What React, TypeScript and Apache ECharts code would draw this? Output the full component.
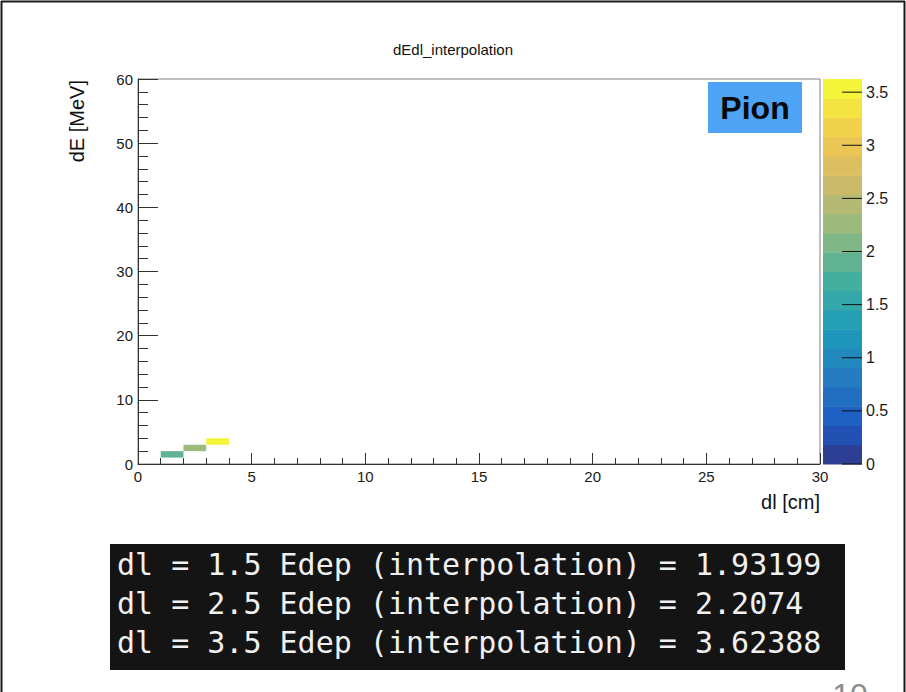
import React, { useEffect, useRef } from "react";
import * as echarts from "echarts";

// Interpolated energy deposit per track segment length
const dlValues = [1.5, 2.5, 3.5]; // dl [cm]
const edepValues = [1.93199, 2.2074, 3.62388]; // Edep (interpolation) [MeV]

// Histogram binning (cm x MeV)
const binWidthDl = 1;
const binWidthDE = 1;

// Axis ticks
const xTickValues = [0, 5, 10, 15, 20, 25, 30];
const yTickValues = [0, 10, 20, 30, 40, 50, 60];
const zTickValues = [0, 0.5, 1, 1.5, 2, 2.5, 3, 3.5];

// Console printout shown under the histogram
const consoleLines = dlValues.map(
  (dl, i) => `dl = ${dl} Edep (interpolation) = ${edepValues[i]}`
);

const nContours = 20;
const zMin = 0;
const zMax = Math.max(...edepValues);

// "Bird" palette stops
const birdStops = [0, 0.125, 0.25, 0.375, 0.5, 0.625, 0.75, 0.875, 1];
const birdR = [0.2082, 0.0592, 0.078, 0.0232, 0.1802, 0.5301, 0.8186, 0.9956, 0.9764];
const birdG = [0.1664, 0.3599, 0.5041, 0.6419, 0.7178, 0.7492, 0.7328, 0.7862, 0.9832];
const birdB = [0.5293, 0.8684, 0.8385, 0.7914, 0.6425, 0.4662, 0.3499, 0.1968, 0.0539];

// slight wash-out of the palette, as it appears on the slide
const washOut = 0.2;

function birdColor(f: number): string {
  const t = Math.max(0, Math.min(1, f));
  let k = 0;
  while (k < birdStops.length - 2 && t > birdStops[k + 1]) k++;
  const u = (t - birdStops[k]) / (birdStops[k + 1] - birdStops[k]);
  const lerp = (a: number[]) => a[k] + u * (a[k + 1] - a[k]);
  const r = lerp(birdR);
  const g = lerp(birdG);
  const b = lerp(birdB);
  const lum = 0.299 * r + 0.587 * g + 0.114 * b;
  const w = (c: number) => Math.round(255 * (c * (1 - washOut) + lum * washOut));
  return `rgb(${w(r)},${w(g)},${w(b)})`;
}

function bandColor(i: number): string {
  return birdColor(((i + 0.99) / nContours) * (255 / 254));
}

function bandIndex(z: number): number {
  const idx = Math.floor(0.01 + ((z - zMin) * nContours) / (zMax - zMin));
  return Math.max(0, Math.min(nContours - 1, idx));
}

const FONT = "'Liberation Sans', Arial, Helvetica, sans-serif";
const MONO = "'DejaVu Sans Mono', 'Liberation Mono', monospace";

export default function App() {
  const ref = useRef<HTMLDivElement>(null);

  useEffect(() => {
    if (!ref.current) return;
    const chart = echarts.init(ref.current, null, { renderer: "svg" });

    const cellData = dlValues.map((dl, i) => [dl, edepValues[i], edepValues[i]]);
    const bandStep = (zMax - zMin) / nContours;
    const bandData = Array.from({ length: nContours }, (_, i) => [
      i,
      zMin + i * bandStep,
      zMin + (i + 1) * bandStep,
    ]);

    const axisLabelStyle = { fontFamily: FONT, fontSize: 15, color: "#1a1a1a" };

    chart.setOption({
      animation: false,
      backgroundColor: "#ffffff",
      textStyle: { fontFamily: FONT },
      title: {
        text: "dEdl_interpolation",
        left: "center",
        top: 37,
        textStyle: { fontFamily: FONT, fontSize: 15, fontWeight: "normal", color: "#111" },
      },
      grid: [
        {
          left: 138,
          top: 79,
          width: 682,
          height: 385,
          show: true,
          borderColor: "#808080",
          borderWidth: 1,
          backgroundColor: "transparent",
        },
        { left: 823, top: 79, width: 39, height: 385 },
      ],
      xAxis: [
        {
          type: "value",
          gridIndex: 0,
          min: xTickValues[0],
          max: xTickValues[xTickValues.length - 1],
          interval: xTickValues[1] - xTickValues[0],
          name: "dl [cm]",
          nameLocation: "end",
          nameGap: 0,
          nameTextStyle: {
            fontFamily: FONT,
            fontSize: 20,
            color: "#111",
            align: "right",
            verticalAlign: "top",
            padding: [28, 0, 0, 0],
          },
          axisLine: { show: true, onZero: false, lineStyle: { color: "#333", width: 1 } },
          axisTick: { show: true, inside: true, length: 11, lineStyle: { color: "#333" } },
          minorTick: { show: true, splitNumber: 5, length: 6, lineStyle: { color: "#333" } },
          axisLabel: { ...axisLabelStyle, margin: 5 },
          splitLine: { show: false },
        },
        { type: "value", gridIndex: 1, min: 0, max: 1, show: false },
      ],
      yAxis: [
        {
          type: "value",
          gridIndex: 0,
          min: yTickValues[0],
          max: yTickValues[yTickValues.length - 1],
          interval: yTickValues[1] - yTickValues[0],
          name: "dE [MeV]",
          nameLocation: "end",
          nameRotate: 90,
          nameGap: -1,
          nameTextStyle: {
            fontFamily: FONT,
            fontSize: 20,
            color: "#111",
            align: "right",
            verticalAlign: "bottom",
            padding: [0, 0, 51, 0],
          },
          axisLine: { show: true, onZero: false, lineStyle: { color: "#333", width: 1 } },
          axisTick: { show: true, inside: true, length: 20, lineStyle: { color: "#333" } },
          minorTick: { show: true, splitNumber: 5, length: 10, lineStyle: { color: "#333" } },
          axisLabel: { ...axisLabelStyle, margin: 5 },
          splitLine: { show: false },
        },
        {
          type: "value",
          gridIndex: 1,
          position: "right",
          min: zMin,
          max: zMax,
          axisLine: { show: false },
          axisTick: { show: false },
          axisLabel: { ...axisLabelStyle, fontSize: 16, margin: 4, customValues: zTickValues },
          splitLine: { show: false },
        },
      ],
      series: [
        {
          type: "custom",
          name: "dEdl",
          xAxisIndex: 0,
          yAxisIndex: 0,
          encode: { x: 0, y: 1 },
          data: cellData,
          renderItem: (_params: any, api: any) => {
            const dl = api.value(0);
            const e = api.value(1);
            const z = api.value(2);
            const x0 = Math.floor(dl / binWidthDl) * binWidthDl;
            const y0 = Math.floor(e / binWidthDE) * binWidthDE;
            const p0 = api.coord([x0, y0 + binWidthDE]);
            const p1 = api.coord([x0 + binWidthDl, y0]);
            return {
              type: "rect",
              shape: { x: p0[0], y: p0[1], width: p1[0] - p0[0], height: p1[1] - p0[1] },
              style: { fill: bandColor(bandIndex(z)) },
            };
          },
          z: 1,
        },
        {
          type: "custom",
          name: "palette",
          xAxisIndex: 1,
          yAxisIndex: 1,
          encode: { x: 0, y: [1, 2] },
          data: bandData,
          renderItem: (_params: any, api: any) => {
            const i = api.value(0);
            const lo = api.value(1);
            const hi = api.value(2);
            const p0 = api.coord([0, hi]);
            const p1 = api.coord([1, lo]);
            return {
              type: "rect",
              shape: { x: p0[0], y: p0[1], width: p1[0] - p0[0], height: p1[1] - p0[1] + 0.5 },
              style: { fill: bandColor(i) },
            };
          },
          z: 1,
        },
        {
          // palette axis ticks, drawn inward from the right edge
          type: "custom",
          name: "paletteTicks",
          xAxisIndex: 1,
          yAxisIndex: 1,
          encode: { y: 0 },
          data: zTickValues.map((v) => [v]),
          renderItem: (_params: any, api: any) => {
            const p = api.coord([1, api.value(0)]);
            return {
              type: "line",
              shape: { x1: p[0] - 20, y1: p[1], x2: p[0], y2: p[1] },
              style: { stroke: "#111", lineWidth: 1 },
            };
          },
          z: 5,
        },
      ],
      graphic: [
        // slide frame
        { type: "line", shape: { x1: 1, y1: 1.5, x2: 905, y2: 1.5 }, style: { stroke: "#1a1a1a", lineWidth: 2 } },
        { type: "line", shape: { x1: 1.5, y1: 1, x2: 1.5, y2: 692 }, style: { stroke: "#1a1a1a", lineWidth: 2 } },
        { type: "line", shape: { x1: 904.5, y1: 1, x2: 904.5, y2: 692 }, style: { stroke: "#1a1a1a", lineWidth: 2 } },
        // particle tag
        { type: "rect", shape: { x: 708, y: 82, width: 94, height: 51 }, style: { fill: "#4ea3f5" } },
        {
          type: "text",
          x: 755,
          y: 108,
          style: {
            text: "Pion",
            fill: "#0a0a0a",
            fontFamily: FONT,
            fontSize: 32,
            fontWeight: "bold",
            align: "center",
            verticalAlign: "middle",
          },
        },
        // console printout
        { type: "rect", shape: { x: 110, y: 544, width: 735, height: 126 }, style: { fill: "#141414" } },
        ...consoleLines.map((line, i) => ({
          type: "text",
          x: 117,
          y: 579 + i * 39,
          style: {
            text: line,
            fill: "#f0f0f0",
            fontFamily: MONO,
            fontSize: 30,
            textBaseline: "alphabetic",
            verticalAlign: "bottom",
          },
        })),
        // slide number
        {
          type: "text",
          x: 850,
          y: 711,
          style: {
            text: "10",
            fill: "#8c8c8c",
            fontFamily: FONT,
            fontSize: 32,
            align: "center",
            textBaseline: "alphabetic",
            verticalAlign: "bottom",
          },
        },
      ],
    });

    return () => chart.dispose();
  }, []);

  return (
    <div
      ref={ref}
      style={{ position: "absolute", left: 0, top: 0, width: 906, height: 692, background: "#fff" }}
    />
  );
}
